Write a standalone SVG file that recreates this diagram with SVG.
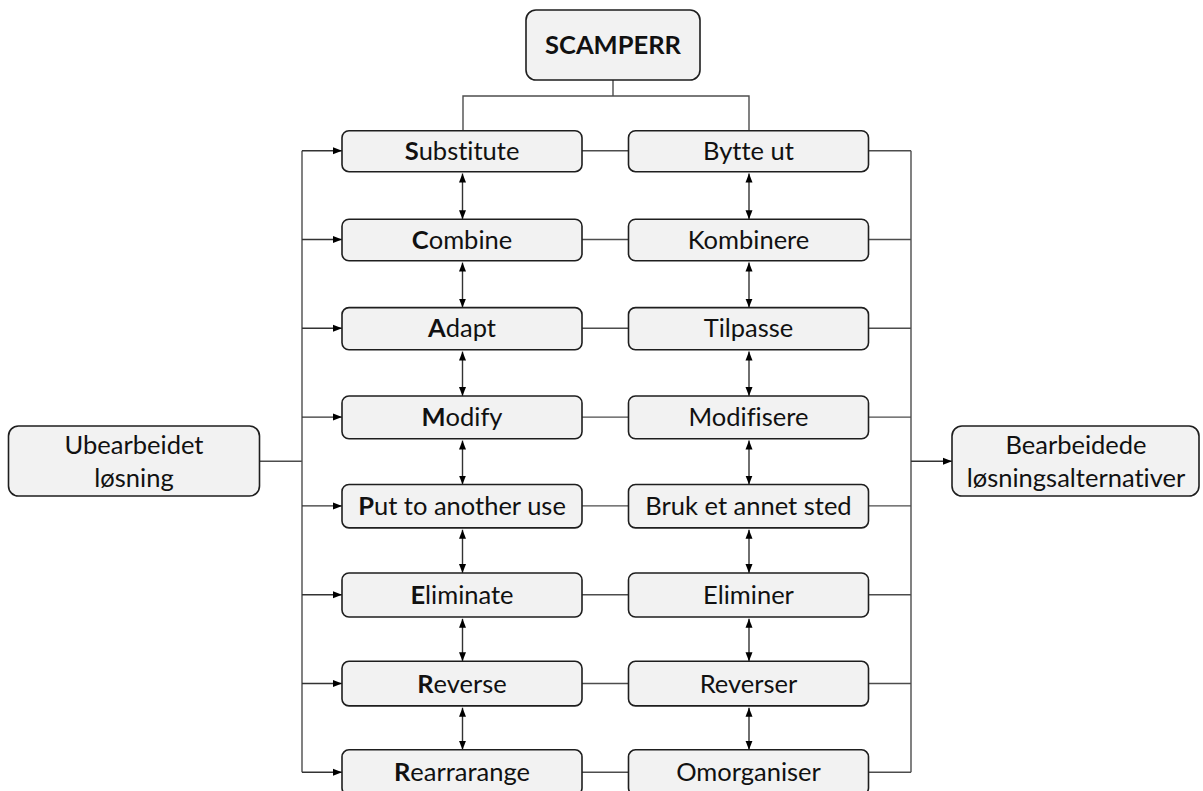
<svg xmlns="http://www.w3.org/2000/svg" width="1203" height="791" viewBox="0 0 1203 791">
  <style>
    .box { fill: #f2f2f2; stroke: #1e1e1e; stroke-width: 1.6; }
    .lbl { font-family: Lato, "Liberation Sans", sans-serif; font-size: 25.5px; fill: #111; text-anchor: middle; font-variant-ligatures: none; font-feature-settings: "liga" 0; }
    .b { font-weight: 700; }
    .wire { fill: none; stroke: #4d4d4d; stroke-width: 1.4; }
    .arr { fill: none; stroke: #333; stroke-width: 1.4; }
  </style>
  <defs>
    <marker id="head" markerUnits="userSpaceOnUse" markerWidth="10" markerHeight="8" refX="9" refY="4" orient="auto-start-reverse">
      <path d="M0,0.5 L9,4 L0,7.5 z" fill="#000"/>
    </marker>
  </defs>

  <!-- connectors -->
  <g id="connectors">
    <!-- SCAMPERR branch to both columns -->
    <path class="wire" d="M613,80 V96 M463,130.7 V96 H749 V130.7"/>
    <!-- input fan-out -->
    <path class="wire" d="M259,461.3 H302 M302,150.7 V772.3"/>
    <path class="arr" marker-end="url(#head)" d="M302,150.7 H342"/>
    <path class="arr" marker-end="url(#head)" d="M302,239.5 H342"/>
    <path class="arr" marker-end="url(#head)" d="M302,328.3 H342"/>
    <path class="arr" marker-end="url(#head)" d="M302,417.1 H342"/>
    <path class="arr" marker-end="url(#head)" d="M302,505.9 H342"/>
    <path class="arr" marker-end="url(#head)" d="M302,594.7 H342"/>
    <path class="arr" marker-end="url(#head)" d="M302,683.5 H342"/>
    <path class="arr" marker-end="url(#head)" d="M302,772.3 H342"/>
    <!-- English to Norwegian links -->
    <path class="wire" d="M582,150.7 H628.5 M582,239.5 H628.5 M582,328.3 H628.5 M582,417.1 H628.5 M582,505.9 H628.5 M582,594.7 H628.5 M582,683.5 H628.5 M582,772.3 H628.5"/>
    <!-- output merge -->
    <path class="wire" d="M868.5,150.7 H911 M868.5,239.5 H911 M868.5,328.3 H911 M868.5,417.1 H911 M868.5,505.9 H911 M868.5,594.7 H911 M868.5,683.5 H911 M868.5,772.3 H911 M911,150.7 V772.3"/>
    <path class="arr" marker-end="url(#head)" d="M911,461.3 H952"/>
    <!-- two-way links within the left column -->
    <path class="arr" marker-start="url(#head)" marker-end="url(#head)" d="M462.5,173.5 V219.2"/>
    <path class="arr" marker-start="url(#head)" marker-end="url(#head)" d="M462.5,262.6 V307.6"/>
    <path class="arr" marker-start="url(#head)" marker-end="url(#head)" d="M462.5,351.6 V396"/>
    <path class="arr" marker-start="url(#head)" marker-end="url(#head)" d="M462.5,440.6 V484.5"/>
    <path class="arr" marker-start="url(#head)" marker-end="url(#head)" d="M462.5,529.7 V573"/>
    <path class="arr" marker-start="url(#head)" marker-end="url(#head)" d="M462.5,618.8 V661.3"/>
    <path class="arr" marker-start="url(#head)" marker-end="url(#head)" d="M462.5,707.7 V749.8"/>
    <!-- two-way links within the right column -->
    <path class="arr" marker-start="url(#head)" marker-end="url(#head)" d="M749,173.5 V219.2"/>
    <path class="arr" marker-start="url(#head)" marker-end="url(#head)" d="M749,262.6 V307.6"/>
    <path class="arr" marker-start="url(#head)" marker-end="url(#head)" d="M749,351.6 V396"/>
    <path class="arr" marker-start="url(#head)" marker-end="url(#head)" d="M749,440.6 V484.5"/>
    <path class="arr" marker-start="url(#head)" marker-end="url(#head)" d="M749,529.7 V573"/>
    <path class="arr" marker-start="url(#head)" marker-end="url(#head)" d="M749,618.8 V661.3"/>
    <path class="arr" marker-start="url(#head)" marker-end="url(#head)" d="M749,707.7 V749.8"/>
  </g>

  <!-- root -->
  <g id="scamperr">
    <rect class="box" x="526" y="10" width="174" height="70" rx="10"/>
    <text class="lbl b" x="613" y="54">SCAMPERR</text>
  </g>

  <!-- input and output -->
  <g id="ubearbeidet">
    <rect class="box" x="8.5" y="426" width="251" height="70" rx="10"/>
    <text class="lbl" x="134" y="454">Ubearbeidet</text>
    <text class="lbl" x="134" y="487">løsning</text>
  </g>
  <g id="bearbeidede">
    <rect class="box" x="952" y="426" width="247" height="70" rx="10"/>
    <text class="lbl" x="1076" y="454">Bearbeidede</text>
    <text class="lbl" x="1076" y="487">løsningsalternativer</text>
  </g>

  <!-- English column -->
  <g id="substitute">
    <rect class="box" x="342" y="130.7" width="240" height="41" rx="7"/>
    <text class="lbl" x="462" y="159.7"><tspan class="b">S</tspan>ubstitute</text>
  </g>
  <g id="combine">
    <rect class="box" x="342" y="219.2" width="240" height="41.6" rx="7"/>
    <text class="lbl" x="462" y="248.5"><tspan class="b">C</tspan>ombine</text>
  </g>
  <g id="adapt">
    <rect class="box" x="342" y="307.6" width="240" height="42.2" rx="7"/>
    <text class="lbl" x="462" y="337.3"><tspan class="b">A</tspan>dapt</text>
  </g>
  <g id="modify">
    <rect class="box" x="342" y="396" width="240" height="42.8" rx="7"/>
    <text class="lbl" x="462" y="426.1"><tspan class="b">M</tspan>odify</text>
  </g>
  <g id="put">
    <rect class="box" x="342" y="484.5" width="240" height="43.4" rx="7"/>
    <text class="lbl" x="462" y="514.9"><tspan class="b">P</tspan>ut to another use</text>
  </g>
  <g id="eliminate">
    <rect class="box" x="342" y="573" width="240" height="44" rx="7"/>
    <text class="lbl" x="462" y="603.7"><tspan class="b">E</tspan>liminate</text>
  </g>
  <g id="reverse">
    <rect class="box" x="342" y="661.3" width="240" height="44.6" rx="7"/>
    <text class="lbl" x="462" y="692.5"><tspan class="b">R</tspan>everse</text>
  </g>
  <g id="rearrange">
    <rect class="box" x="342" y="749.8" width="240" height="45.2" rx="7"/>
    <text class="lbl" x="462" y="781.3"><tspan class="b">R</tspan>earrarange</text>
  </g>

  <!-- Norwegian column -->
  <g id="bytte-ut">
    <rect class="box" x="628.5" y="130.7" width="240" height="41" rx="7"/>
    <text class="lbl" x="748.5" y="159.7">Bytte ut</text>
  </g>
  <g id="kombinere">
    <rect class="box" x="628.5" y="219.2" width="240" height="41.6" rx="7"/>
    <text class="lbl" x="748.5" y="248.5">Kombinere</text>
  </g>
  <g id="tilpasse">
    <rect class="box" x="628.5" y="307.6" width="240" height="42.2" rx="7"/>
    <text class="lbl" x="748.5" y="337.3">Tilpasse</text>
  </g>
  <g id="modifisere">
    <rect class="box" x="628.5" y="396" width="240" height="42.8" rx="7"/>
    <text class="lbl" x="748.5" y="426.1">Modifisere</text>
  </g>
  <g id="bruk">
    <rect class="box" x="628.5" y="484.5" width="240" height="43.4" rx="7"/>
    <text class="lbl" x="748.5" y="514.9">Bruk et annet sted</text>
  </g>
  <g id="eliminer">
    <rect class="box" x="628.5" y="573" width="240" height="44" rx="7"/>
    <text class="lbl" x="748.5" y="603.7">Eliminer</text>
  </g>
  <g id="reverser">
    <rect class="box" x="628.5" y="661.3" width="240" height="44.6" rx="7"/>
    <text class="lbl" x="748.5" y="692.5">Reverser</text>
  </g>
  <g id="omorganiser">
    <rect class="box" x="628.5" y="749.8" width="240" height="45.2" rx="7"/>
    <text class="lbl" x="748.5" y="781.3">Omorganiser</text>
  </g>
</svg>
